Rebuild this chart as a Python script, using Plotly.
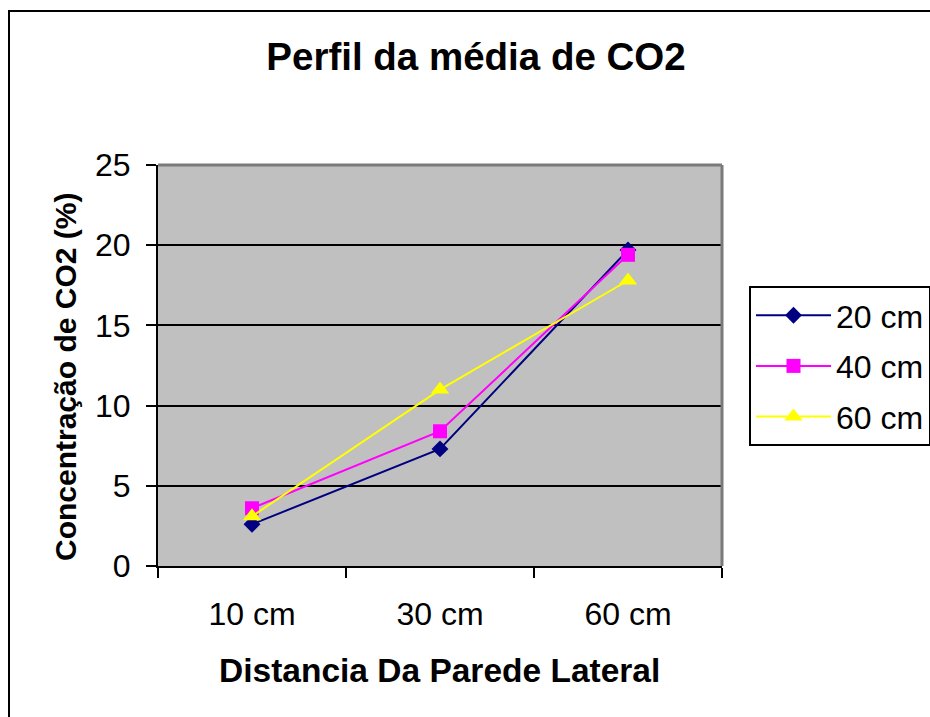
import plotly.graph_objects as go

# Distance from the side wall (categories)
distances = ["10 cm", "30 cm", "60 cm"]

# Mean CO2 concentration (%) for each sampling depth
co2_20cm = [2.6, 7.3, 19.7]
co2_40cm = [3.6, 8.4, 19.4]
co2_60cm = [3.1, 11.0, 17.8]

y_ticks = [0, 5, 10, 15, 20, 25]

FONT = "Liberation Sans, Arial, sans-serif"

series = [
    ("20 cm", co2_20cm, "#000080", "diamond", 13),
    ("40 cm", co2_40cm, "#FF00FF", "square", 14),
    ("60 cm", co2_60cm, "#FFFF00", "triangle-up", 16),
]

fig = go.Figure()
for i, (name, values, color, symbol, size) in enumerate(series):
    fig.add_trace(go.Scatter(
        x=distances, y=values, name=name, mode="lines+markers",
        line=dict(color=color, width=2),
        marker=dict(symbol=symbol, size=size, color=color,
                    line=dict(color=color, width=0)),
        legendgroup=f"g{i}",
    ))

W, H = 930, 717
L, R, T, B = 158, 208, 165, 151
pw, ph = W - L - R, H - T - B


def px_x(x):
    return (x - L) / pw


def px_y(y):
    return (H - B - y) / ph


fig.update_layout(
    width=W, height=H,
    margin=dict(l=L, r=R, t=T, b=B, autoexpand=False),
    paper_bgcolor="white",
    plot_bgcolor="#C0C0C0",
    font=dict(family=FONT, color="black", size=32),
    title=dict(text="<b>Perfil da média de CO2</b>", font=dict(size=38.5),
               x=476 / W, xanchor="center", y=1 - 57 / H, yanchor="middle"),
    showlegend=True,
    legend=dict(x=px_x(749), y=px_y(286), xanchor="left", yanchor="top",
                bordercolor="black", borderwidth=2, bgcolor="white",
                font=dict(size=32), tracegroupgap=6, itemwidth=75,
                traceorder="grouped"),
    xaxis=dict(
        type="category", range=[-0.5, 2.5],
        showline=True, linecolor="black", linewidth=2,
        ticks="outside", tickson="boundaries", ticklen=10,
        tickcolor="black", tickwidth=2,
        ticklabelstandoff=19, showgrid=False,
        tickfont=dict(size=32),
    ),
    yaxis=dict(
        range=[0, 25], tickvals=y_ticks,
        showline=True, linecolor="black", linewidth=2,
        ticks="outside", ticklen=10, tickcolor="black", tickwidth=2,
        ticklabelstandoff=9,
        showgrid=True, gridcolor="black", gridwidth=2,
        zeroline=False, tickfont=dict(size=32),
    ),
    annotations=[
        dict(text="<b>Distancia Da Parede Lateral</b>", xref="paper", yref="paper",
             x=px_x(439), y=px_y(670), xanchor="center", yanchor="middle",
             showarrow=False, font=dict(size=33.5)),
        dict(text="<b>Concentração de CO2 (%)</b>", xref="paper", yref="paper",
             x=px_x(65), y=px_y(377), xanchor="center", yanchor="middle",
             textangle=-90, showarrow=False, font=dict(size=30)),
    ],
    shapes=[
        # chart frame: left and top edges (right/bottom fall outside the page)
        dict(type="line", xref="paper", yref="paper",
             x0=px_x(9), x1=px_x(9), y0=px_y(10), y1=px_y(717),
             line=dict(color="black", width=2), layer="below"),
        dict(type="line", xref="paper", yref="paper",
             x0=px_x(8), x1=px_x(930), y0=px_y(11), y1=px_y(11),
             line=dict(color="black", width=2), layer="below"),
        # grey plot-area border on top and right
        dict(type="line", xref="paper", yref="paper", x0=0, x1=1, y0=1, y1=1,
             line=dict(color="#7a7a7a", width=3), layer="above"),
        dict(type="line", xref="paper", yref="paper", x0=1, x1=1, y0=0, y1=1,
             line=dict(color="#7a7a7a", width=3), layer="above"),
    ],
)

# keep the page itself from scrolling when the legend box runs past the edge
fig.write_html(
    "out.html",
    post_script="document.documentElement.style.overflow='hidden';"
                "document.body.style.overflow='hidden';",
)
